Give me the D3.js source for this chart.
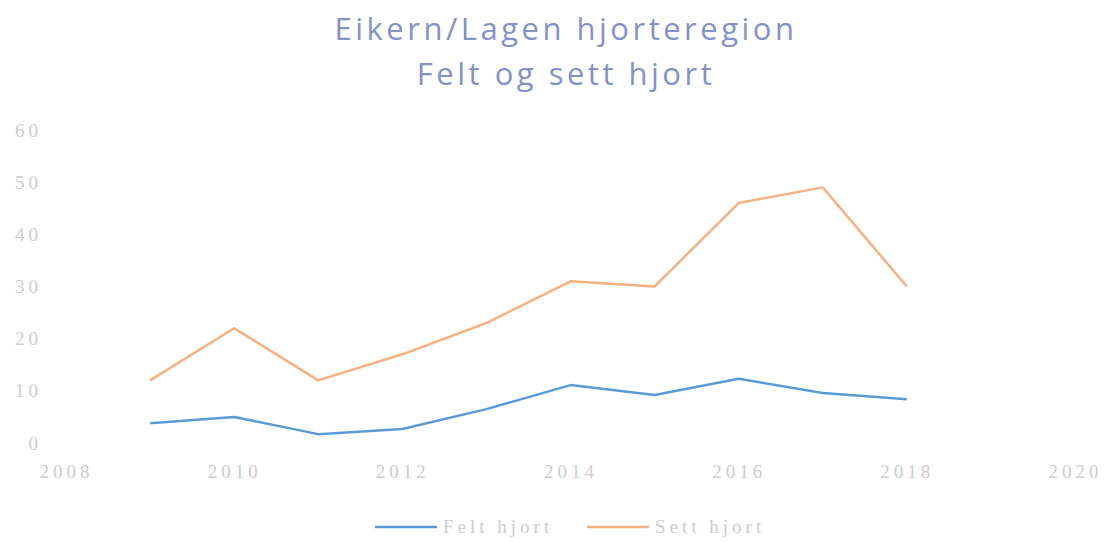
<!DOCTYPE html>
<html>
<head>
<meta charset="utf-8">
<script src="https://cdn.jsdelivr.net/npm/d3@7"></script>
<style>
  body { margin: 0; background: #fff; }
  svg { display: block; }
</style>
</head>
<body>
<div id="chart"></div>
<script>
// data
var years = [2009, 2010, 2011, 2012, 2013, 2014, 2015, 2016, 2017, 2018];
var feltHjort = [3.8, 5.0, 1.7, 2.7, 6.5, 11.1, 9.2, 12.3, 9.6, 8.4];
var settHjort = [12, 22, 12, 17, 23, 31, 30, 46, 49, 30];
var xTicks = [2008, 2010, 2012, 2014, 2016, 2018, 2020];
var yTicks = [0, 10, 20, 30, 40, 50, 60];
var titleLines = ["Eikern/Lagen hjorteregion", "Felt og sett hjort"];

var svgWidth = 1107;
var svgHeight = 542;

var margin = { top: 130, right: 32, bottom: 99, left: 66 };
var width = svgWidth - margin.left - margin.right;
var height = svgHeight - margin.top - margin.bottom;

var svg = d3.select("#chart")
  .append("svg")
  .attr("width", svgWidth)
  .attr("height", svgHeight);

var chartGroup = svg.append("g")
  .attr("transform", `translate(${margin.left}, ${margin.top})`);

// scales
var xScale = d3.scaleLinear().domain([2008, 2020]).range([0, width]);
var yScale = d3.scaleLinear().domain([0, 60]).range([height, 0]);

// title
svg.append("g").selectAll("text")
  .data(titleLines)
  .enter()
  .append("text")
  .attr("x", 566)
  .attr("y", (d, i) => 40 + i * 45)
  .attr("text-anchor", "middle")
  .style("font-family", "'Open Sans', sans-serif")
  .style("font-size", "31px")
  .style("letter-spacing", "3.5px")
  .style("fill", "#8592c6")
  .text(d => d);

// axes (no domain line, no ticks)
var xAxis = d3.axisBottom(xScale).tickValues(xTicks).tickFormat(d3.format("d")).tickSize(0).tickPadding(22);
var yAxis = d3.axisLeft(yScale).tickValues(yTicks).tickSize(0).tickPadding(24);

var xAxisG = chartGroup.append("g")
  .attr("transform", `translate(0, ${height})`)
  .call(xAxis);
var yAxisG = chartGroup.append("g").call(yAxis);

[xAxisG, yAxisG].forEach(function(g) {
  g.select(".domain").remove();
  g.selectAll("text")
    .style("font-family", "'Liberation Serif', serif")
    .style("font-size", "19px")
    .style("letter-spacing", "4px")
    .style("fill", "#cdcdcd");
});

// lines
var line = d3.line()
  .x((d, i) => xScale(years[i]))
  .y(d => yScale(d));

chartGroup.append("path")
  .datum(settHjort)
  .attr("d", line)
  .attr("fill", "none")
  .attr("stroke", "#f4b183")
  .attr("stroke-width", 2.5)
  .attr("stroke-linejoin", "round");

chartGroup.append("path")
  .datum(feltHjort)
  .attr("d", line)
  .attr("fill", "none")
  .attr("stroke", "#5b9bd5")
  .attr("stroke-width", 2.5)
  .attr("stroke-linejoin", "round");

// legend
var legendItems = [
  { name: "Felt hjort", color: "#5b9bd5", x: 375 },
  { name: "Sett hjort", color: "#f4b183", x: 587 }
];

var legend = svg.append("g").selectAll("g")
  .data(legendItems)
  .enter()
  .append("g")
  .attr("transform", d => `translate(${d.x}, 527)`);

legend.append("line")
  .attr("x1", 0)
  .attr("x2", 62)
  .attr("stroke", d => d.color)
  .attr("stroke-width", 2.5);

legend.append("text")
  .attr("x", 68)
  .attr("y", 6)
  .style("font-family", "'Liberation Serif', serif")
  .style("font-size", "19px")
  .style("letter-spacing", "4px")
  .style("fill", "#cdcdcd")
  .text(d => d.name);
</script>
</body>
</html>
